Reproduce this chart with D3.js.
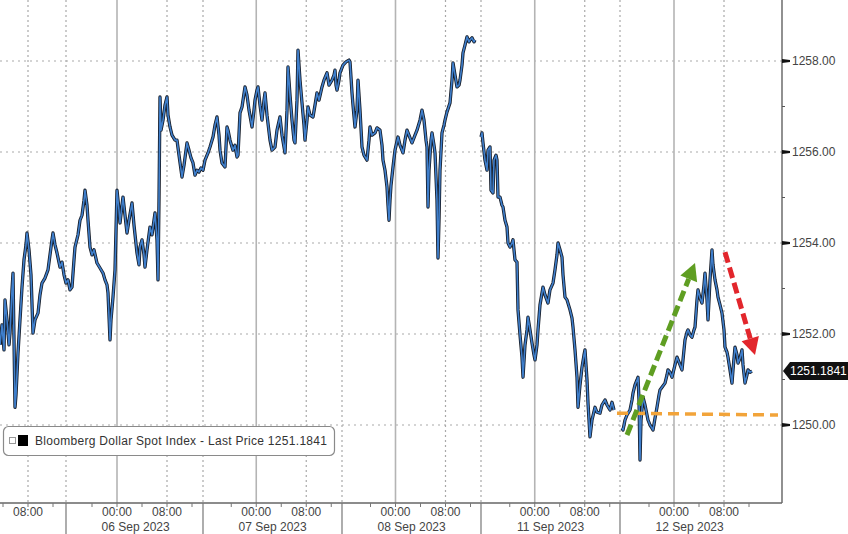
<!DOCTYPE html>
<html><head><meta charset="utf-8">
<script src="https://cdn.jsdelivr.net/npm/d3@7/dist/d3.min.js"></script>
<style>
body{margin:0;background:#fff}
svg{display:block}
text{font-family:"Liberation Sans",Arial,sans-serif}
</style>
</head><body>
<svg id="c" width="848" height="534"></svg>
<script>
// ---- data (session hours from chart start, price) ----
const hours = [
0,0.32,0.64,0.8,1.12,1.44,1.6,1.92,2.08,2.24,
2.4,2.56,2.88,3.2,3.52,3.84,4.16,4.32,4.64,4.96,
5.28,5.6,6.08,6.4,6.72,7.2,7.68,8,8.32,8.48,
8.8,9.12,9.6,9.92,10.24,10.56,10.88,11.2,11.52,11.84,
12,12.48,12.8,13.12,13.44,13.6,13.92,14.08,14.4,14.72,
15.04,15.52,16,16.48,16.8,17.12,17.28,17.6,17.76,18.08,
18.4,18.56,18.72,19.04,19.2,19.52,19.68,20,20.32,20.64,
21.12,21.44,21.92,22.24,22.4,22.72,23.04,23.2,23.52,24,
24.32,24.8,25.12,25.28,25.44,25.6,25.76,26.08,26.4,26.72,
26.88,27.2,27.52,28,28.32,28.64,29.12,29.44,29.92,30.24,
30.56,30.88,31.2,31.52,31.84,32.16,32.48,32.8,33.28,33.6,
34.08,34.4,34.72,35.04,35.2,35.52,36,36.32,36.48,36.8,
37.28,37.6,37.92,38.08,38.4,38.72,39.2,39.52,39.84,40.32,
40.64,40.8,41.12,41.28,41.6,41.92,42.24,42.4,42.72,43.2,
43.52,44,44.32,44.8,45.12,45.6,45.92,46.08,46.4,46.72,
47.04,47.2,47.52,47.68,48,48.32,48.64,48.8,49.12,49.28,
49.6,50.08,50.4,50.72,51.04,51.52,51.84,52.32,52.64,53.12,
53.44,53.6,53.76,53.92,54.24,54.4,54.88,55.36,55.84,56,
56.32,56.48,56.8,57.12,57.28,57.6,57.92,58.24,58.72,59.04,
59.2,59.52,60,60.32,60.8,61.12,61.28,61.6,61.92,62.08,
62.24,62.4,62.56,62.88,63.2,63.68,64,64.48,64.8,65.12,
65.6,65.92,66.4,66.72,67.2,67.52,67.84,68.16,68.32,68.48,
68.64,68.96,69.12,69.44,69.6,69.92,70.08,70.24,70.4,70.72,
71.04,71.2,71.52,72,72.32,72.48,72.8,73.12,73.44,73.6,
73.92,74.08,74.4,74.72,75.04,75.2,75.52,75.84,76,
76.5,
76.96,77.12,77.28,77.6,77.92,78.08,78.4,78.56,78.88,79.04,
79.36,79.52,79.68,80,80.32,80.48,80.8,81.12,81.28,81.6,
81.92,82.08,82.4,82.72,82.88,83.2,83.52,83.68,84,84.32,
84.48,84.8,85.12,85.44,85.6,85.92,86.08,86.4,86.88,87.2,
87.68,88,88.48,88.8,89.12,89.28,89.6,89.92,90.08,90.4,
90.72,91.2,91.52,91.68,92,92.32,92.48,92.8,93.12,93.44,
93.6,93.92,94.08,94.4,94.72,95.2,95.52,96,96.32,96.8,
97.12,97.6,97.92,98.24,
98.9,
99.52,99.68,100,100.32,100.8,101.12,101.28,101.6,101.92,102.08,
102.24,102.4,102.56,102.88,103.2,103.52,103.68,104,104.32,104.48,
104.8,105.12,105.44,105.6,105.92,106.4,106.72,106.88,107.2,107.52,
108,108.32,108.64,109.12,109.44,109.6,109.92,110.08,110.4,110.72,
111.04,111.2,111.52,111.68,112,112.32,112.64,112.8,113.12,113.28,
113.6,113.92,114.08,114.4,114.72,114.88,115.2,115.52,115.84,116,
116.32,116.48,116.8,117.12,117.28,117.6,117.92,118.08,118.4,118.72,
118.88,119.2,119.52,119.68,120,120.32
];
const prices = [
1251.76,1252.20,1251.65,1252.75,1252.31,1251.76,1252.02,1252.97,1253.34,1251.87,
1250.39,1250.66,1251.58,1252.31,1253.03,1253.63,1253.96,1254.22,1253.85,1253.30,
1252.02,1252.31,1252.46,1252.86,1253.12,1253.23,1253.41,1253.74,1254.07,1254.22,
1253.96,1253.78,1253.47,1253.58,1253.30,1253.12,1253.19,1252.97,1253.03,1253.63,
1253.91,1254.18,1254.50,1254.61,1254.94,1255.16,1254.83,1254.50,1253.91,1253.74,
1253.85,1253.56,1253.45,1253.34,1253.19,1253.08,1252.90,1251.87,1252.31,1252.81,
1253.41,1254.29,1255.16,1254.72,1254.44,1254.83,1255.01,1254.61,1254.22,1254.50,
1254.88,1254.39,1253.78,1253.52,1253.91,1254.07,1253.74,1253.47,1253.85,1254.35,
1254.18,1254.66,1254.07,1253.19,1254.94,1257.21,1256.48,1256.70,1257.03,1257.21,
1256.81,1256.55,1256.37,1256.26,1256.26,1255.93,1255.45,1255.71,1256.20,1256.04,
1255.87,1255.76,1255.49,1255.60,1255.56,1255.65,1255.60,1255.82,1255.98,1256.11,
1256.33,1256.59,1256.77,1256.37,1256.04,1255.76,1255.67,1256.55,1256.48,1256.26,
1256.04,1256.15,1255.89,1255.93,1256.86,1256.99,1257.43,1257.25,1256.92,1256.55,
1256.92,1257.14,1257.36,1257.43,1257.03,1256.70,1257.14,1257.30,1256.81,1256.26,
1256.04,1256.11,1256.48,1256.77,1256.37,1255.98,1256.92,1257.87,1257.25,1256.70,
1256.26,1256.20,1257.14,1258.24,1257.58,1257.08,1256.59,1256.26,1256.70,1256.99,
1256.81,1256.77,1257.03,1257.30,1257.14,1257.43,1257.58,1257.74,1257.47,1257.58,
1257.69,1257.80,1257.47,1257.36,1257.58,1257.74,1257.91,1257.98,1258.02,1257.98,
1257.30,1257.03,1256.55,1256.92,1257.58,1256.92,1256.11,1255.93,1255.82,1256.26,
1256.55,1256.37,1256.42,1256.53,1256.48,1256.15,1255.82,1255.60,1255.23,1254.83,
1254.50,1254.94,1255.27,1255.67,1256.04,1256.33,1256.15,1255.98,1256.26,1256.48,
1256.31,1256.20,1256.37,1256.48,1256.70,1256.92,1256.70,1256.26,1256.11,1254.79,
1255.60,1256.26,1256.42,1256.15,1255.98,1254.94,1253.67,1254.50,1255.60,1256.42,
1256.59,1256.70,1256.88,1257.08,1257.58,1257.96,1257.69,1257.43,1257.47,1257.58,
1257.91,1258.18,1258.35,1258.53,1258.42,1258.46,1258.51,1258.42,1258.46,
null,
1256.33,1256.42,1256.20,1255.82,1255.60,1256.04,1256.11,1255.16,1255.10,1255.82,
1255.93,1255.82,1255.01,1255.01,1254.83,1254.79,1254.50,1254.35,1254.00,1253.91,
1254.00,1254.07,1253.63,1253.58,1252.53,1251.98,1251.49,1251.05,1251.76,1252.09,
1252.37,1252.09,1251.80,1251.54,1251.43,1251.76,1252.09,1252.64,1253.03,1252.86,
1252.68,1252.97,1253.12,1253.41,1253.74,1254.00,1253.85,1253.69,1253.30,1252.81,
1252.75,1252.53,1252.35,1252.15,1251.65,1251.05,1250.39,1250.88,1251.27,1251.54,
1251.65,1250.99,1250.48,1249.74,1250.11,1250.39,1250.28,1250.26,1250.44,1250.55,
1250.44,1250.33,1250.50,1250.33,
null,
1249.93,1249.89,1250.11,1250.22,1250.33,1250.55,1250.70,1250.88,1250.99,1251.05,
1250.55,1249.23,1250.11,1250.61,1250.44,1250.22,1250.11,1250.00,1249.93,1249.89,
1250.15,1250.39,1250.66,1250.77,1250.83,1250.92,1251.10,1251.21,1251.16,1251.05,
1251.32,1251.49,1251.38,1251.21,1251.65,1251.87,1252.04,1252.09,1251.98,1251.93,
1252.09,1252.15,1252.75,1252.97,1252.79,1252.68,1253.08,1253.34,1252.75,1252.31,
1253.19,1253.85,1253.52,1253.19,1252.97,1252.81,1252.64,1252.46,1252.09,1251.71,
1251.60,1251.49,1251.21,1250.92,1251.21,1251.71,1251.54,1251.36,1251.47,1251.65,
1251.32,1250.92,1251.10,1251.21,1251.16,1251.18
];
const lastPrice = 1251.1841;
const seriesName = "Bloomberg Dollar Spot Index - Last Price";
const yTicks = [1250, 1252, 1254, 1256, 1258];
const yMinor = [1251, 1253, 1255, 1257];
const dayStarts = [18.72, 41.0, 63.28, 85.56, 107.84];      // 00:00 of each session
const eightAm = [4.48, 26.72, 49.0, 71.28, 93.56, 115.84];  // 08:00 ticks
const sessionBreaks = [10.56, 32.48, 54.72, 76.96, 99.2];  // session boundaries
const dateLabels = ["06 Sep 2023", "07 Sep 2023", "08 Sep 2023", "11 Sep 2023", "12 Sep 2023"];
const sessionLength = 22.28;
// annotations (hours, price)
const supportLine = [[98.72, 1250.26], [124.48, 1250.22]];
const upArrow = [[100.32, 1249.78], [111.2, 1253.56]];
const downArrow = [[116.0, 1253.80], [120.8, 1251.54]];

// ---- layout ----
const W = 848, H = 534;
const axisX = 782, axisY = 503;
const x = d3.scaleLinear().domain([0, 125.12]).range([0, axisX]);
const y = d3.scaleLinear().domain([1250, 1258]).range([425, 61]);

const svg = d3.select("#c");
svg.append("rect").attr("width", W).attr("height", H).attr("fill", "#fff");

const grid = svg.append("g");
grid.selectAll("line.h").data(yTicks).join("line")
  .attr("x1", 0).attr("x2", axisX).attr("y1", d => y(d)).attr("y2", d => y(d))
  .attr("stroke", "#a9a9a9").attr("stroke-width", 1.2).attr("stroke-dasharray", "2,4");
grid.selectAll("line.v").data(eightAm.concat(sessionBreaks)).join("line")
  .attr("x1", d => x(d)).attr("x2", d => x(d)).attr("y1", 0).attr("y2", axisY)
  .attr("stroke", "#a9a9a9").attr("stroke-width", 1.2).attr("stroke-dasharray", "2,3");
grid.selectAll("line.d").data(dayStarts).join("line")
  .attr("x1", d => x(d)).attr("x2", d => x(d)).attr("y1", 0).attr("y2", axisY)
  .attr("stroke", "#b4b4b4").attr("stroke-width", 1.6);

// ---- series ----
const pts = hours.map((h, i) => ({h, p: prices[i]}));
const line = d3.line().defined(d => d.p !== null).x(d => x(d.h)).y(d => y(d.p));
svg.append("path").datum(pts).attr("d", line).attr("fill", "none")
  .attr("stroke", "#161d29").attr("stroke-width", 3.3).attr("stroke-linejoin", "round");
svg.append("path").datum(pts).attr("d", line).attr("fill", "none")
  .attr("stroke", "#3f7fcc").attr("stroke-width", 1.6).attr("stroke-linejoin", "round");

// ---- annotations ----
svg.append("line")
  .attr("x1", x(supportLine[0][0])).attr("y1", y(supportLine[0][1]))
  .attr("x2", x(supportLine[1][0])).attr("y2", y(supportLine[1][1]))
  .attr("stroke", "#f2a43a").attr("stroke-width", 3.5).attr("stroke-dasharray", "11,6");

function arrow(a, color) {
  const x1 = x(a[0][0]), y1 = y(a[0][1]), x2 = x(a[1][0]), y2 = y(a[1][1]);
  const ang = Math.atan2(y2 - y1, x2 - x1);
  const hl = 17, hw = 9;
  const bx = x2 - hl * Math.cos(ang), by = y2 - hl * Math.sin(ang);
  svg.append("line").attr("x1", x1).attr("y1", y1).attr("x2", bx).attr("y2", by)
    .attr("stroke", color).attr("stroke-width", 5).attr("stroke-dasharray", "11,5");
  const px = -Math.sin(ang), py = Math.cos(ang);
  svg.append("path")
    .attr("d", `M${x2},${y2}L${bx + px * hw},${by + py * hw}L${bx - px * hw},${by - py * hw}Z`)
    .attr("fill", color);
}
arrow(upArrow, "#5f9e22");
arrow(downArrow, "#e2262c");

// ---- right axis ----
const ax = svg.append("g");
ax.append("line").attr("x1", axisX).attr("x2", axisX).attr("y1", 0).attr("y2", axisY)
  .attr("stroke", "#555").attr("stroke-width", 1.3);
ax.selectAll("path.t").data(yTicks).join("path")
  .attr("d", d => `M${axisX},${y(d) - 2}L${axisX + 8},${y(d) - 1}L${axisX + 8},${y(d) + 1}L${axisX},${y(d) + 2}Z`)
  .attr("fill", "#111");
ax.selectAll("line.m").data(yMinor).join("line")
  .attr("x1", axisX).attr("x2", axisX + 3).attr("y1", d => y(d)).attr("y2", d => y(d))
  .attr("stroke", "#555");
ax.selectAll("text").data(yTicks).join("text")
  .attr("x", axisX + 10).attr("y", d => y(d) + 4)
  .attr("font-size", 12).attr("fill", "#444").text(d => d.toFixed(2));

const ly = y(lastPrice);
svg.append("path")
  .attr("d", `M${axisX + 1},${ly}L${axisX + 8},${ly - 9}L${W},${ly - 9}L${W},${ly + 9}L${axisX + 8},${ly + 9}Z`)
  .attr("fill", "#111");
svg.append("text").attr("x", axisX + 8).attr("y", ly + 4).attr("font-size", 12)
  .attr("fill", "#fff").text(lastPrice.toFixed(4));

// ---- bottom axis ----
const bx = svg.append("g");
bx.append("line").attr("x1", 0).attr("x2", axisX).attr("y1", axisY).attr("y2", axisY)
  .attr("stroke", "#666").attr("stroke-width", 1.3);
bx.selectAll("line.b").data(sessionBreaks).join("line")
  .attr("x1", d => x(d)).attr("x2", d => x(d)).attr("y1", axisY).attr("y2", H)
  .attr("stroke", "#777").attr("stroke-width", 1.2);
const minorX = [];
dayStarts.forEach(d => { [-4, 4, 12].forEach(o => minorX.push(d + o)); });
minorX.push(eightAm[0] - 4, eightAm[0] + 4);
bx.selectAll("line.mt").data(dayStarts.concat(eightAm, minorX)).join("line")
  .attr("x1", d => x(d)).attr("x2", d => x(d)).attr("y1", axisY).attr("y2", axisY + 4)
  .attr("stroke", "#777");
const tickLabs = eightAm.map(h => ({h, t: "08:00"})).concat(dayStarts.map(h => ({h, t: "00:00"})));
bx.selectAll("text.tl").data(tickLabs).join("text")
  .attr("x", d => x(d.h)).attr("y", axisY + 13).attr("text-anchor", "middle")
  .attr("font-size", 12).attr("fill", "#444").text(d => d.t);
bx.selectAll("text.dl").data(dateLabels).join("text")
  .attr("x", (d, i) => x(sessionBreaks[i] + sessionLength / 2)).attr("y", axisY + 28)
  .attr("text-anchor", "middle").attr("font-size", 12).attr("fill", "#444").text(d => d);

// ---- legend ----
const lg = svg.append("g");
lg.append("rect").attr("x", 3.5).attr("y", 426.5).attr("width", 331).attr("height", 29)
  .attr("rx", 5).attr("fill", "#fff").attr("stroke", "#8a8a8a").attr("stroke-width", 1.2);
lg.append("rect").attr("x", 9.5).attr("y", 437.5).attr("width", 6).attr("height", 6)
  .attr("fill", "#fff").attr("stroke", "#999");
lg.append("rect").attr("x", 18).attr("y", 435).attr("width", 10).attr("height", 11).attr("fill", "#000");
lg.append("text").attr("x", 35).attr("y", 445).attr("font-size", 12).attr("fill", "#333")
  .attr("textLength", 292).text(`${seriesName} ${lastPrice.toFixed(4)}`);
</script>
</body></html>
